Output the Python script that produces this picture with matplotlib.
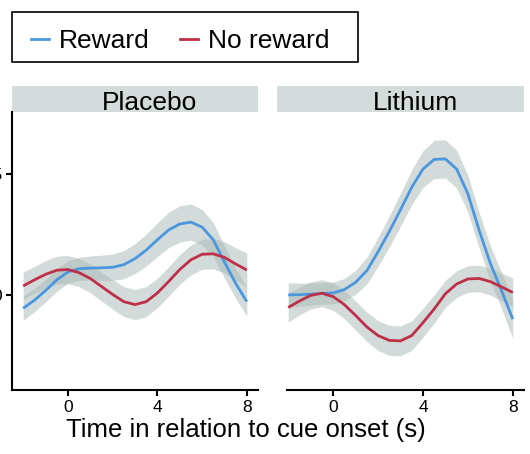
import numpy as np
import matplotlib
matplotlib.use("Agg")
import matplotlib.pyplot as plt
from matplotlib.lines import Line2D
from matplotlib.patches import Rectangle

plt.rcParams['font.family'] = ['Liberation Sans', 'DejaVu Sans']

# data (time in s, signal in axis units)
time = [-2, -1.5, -1, -0.5, 0, 0.5, 1, 1.5, 2, 2.5, 3,
        3.5, 4, 4.5, 5, 5.5, 6, 6.5, 7, 7.5, 8]

placebo_reward = [-0.055, -0.022, 0.018, 0.062, 0.095, 0.108, 0.111, 0.112, 0.114, 0.125, 0.150,
                  0.185, 0.228, 0.268, 0.293, 0.301, 0.280, 0.228, 0.136, 0.048, -0.028]
placebo_reward_se = [0.050, 0.048, 0.047, 0.047, 0.047, 0.048, 0.050, 0.052, 0.055, 0.058, 0.062,
                     0.066, 0.070, 0.073, 0.075, 0.075, 0.073, 0.070, 0.066, 0.062, 0.060]
placebo_noreward = [0.037, 0.062, 0.085, 0.102, 0.105, 0.092, 0.068, 0.035, 0.002, -0.028, -0.040,
                    -0.028, 0.008, 0.055, 0.105, 0.145, 0.168, 0.170, 0.155, 0.128, 0.103]
placebo_noreward_se = [0.057, 0.056, 0.057, 0.058, 0.058, 0.058, 0.059, 0.060, 0.061, 0.062, 0.062,
                       0.062, 0.061, 0.061, 0.061, 0.062, 0.062, 0.063, 0.065, 0.067, 0.070]

lithium_reward = [0.000, 0.001, 0.003, 0.006, 0.008, 0.022, 0.052, 0.100, 0.178, 0.262, 0.352,
                  0.445, 0.520, 0.560, 0.562, 0.520, 0.418, 0.268, 0.130, 0.018, -0.100]
lithium_reward_se = [0.050, 0.048, 0.046, 0.045, 0.045, 0.046, 0.050, 0.055, 0.060, 0.064, 0.068,
                     0.072, 0.076, 0.079, 0.079, 0.078, 0.076, 0.074, 0.073, 0.075, 0.080]
lithium_noreward = [-0.052, -0.025, -0.002, 0.007, -0.007, -0.040, -0.085, -0.132, -0.168, -0.188, -0.190,
                    -0.168, -0.115, -0.058, 0.005, 0.045, 0.066, 0.068, 0.055, 0.033, 0.010]
lithium_noreward_se = [0.060, 0.058, 0.056, 0.056, 0.057, 0.058, 0.060, 0.061, 0.062, 0.062, 0.062,
                       0.061, 0.060, 0.058, 0.056, 0.055, 0.055, 0.055, 0.056, 0.058, 0.060]

panels = ["Placebo", "Lithium"]
x_ticks = [0, 4, 8]
y_ticks = [0, 0.5]
y_ticklabels = ["0", "0.5"]

blue = "#4A97E0"
red = "#BE3048"
band = "#A9B8B6"
strip = "#D3DCDA"

W, H = 530, 454
fig = plt.figure(figsize=(W / 100, H / 100), dpi=100)

def px(x0, y0, x1, y1):
    return [x0 / W, 1 - y1 / H, (x1 - x0) / W, (y1 - y0) / H]

ax1 = fig.add_axes(px(12, 112, 258, 390))
ax2 = fig.add_axes(px(277, 112, 524, 390))

series = [
    (ax1, placebo_reward, placebo_reward_se, placebo_noreward, placebo_noreward_se),
    (ax2, lithium_reward, lithium_reward_se, lithium_noreward, lithium_noreward_se),
]

t = np.array(time)
for (ax, rw, rw_se, nr, nr_se), name in zip(series, panels):
    for m, se in [(rw, rw_se), (nr, nr_se)]:
        m = np.array(m)
        se = np.array(se)
        ax.fill_between(t, m - se, m + se, color=band, alpha=0.5, lw=0, zorder=1)
    for m, col in [(rw, blue), (nr, red)]:
        ax.plot(t, m, color=col, lw=2.0, zorder=3, solid_capstyle='butt',
                solid_joinstyle='round')

    ax.set_xlim(-2.5, 8.5)
    ax.set_ylim(-0.393, 0.756)
    ax.set_xticks(x_ticks)
    ax.set_xticklabels([str(v) for v in x_ticks], fontsize=12.5)
    for s in ["top", "right"]:
        ax.spines[s].set_visible(False)
    ax.spines["bottom"].set_linewidth(1.5)
    ax.spines["left"].set_linewidth(1.5)
    ax.tick_params(axis="x", length=4, width=1.5, pad=3.5)
    ax.add_patch(Rectangle((0, 1.0), 1.0, 25.5 / 278, transform=ax.transAxes,
                           facecolor=strip, edgecolor="none", clip_on=False))
    ax.text(0.56, 1.0 + 2.5 / 278, name, transform=ax.transAxes, ha="center",
            va="baseline", fontsize=19)

ax1.set_yticks(y_ticks)
ax1.set_yticklabels(y_ticklabels, fontsize=12.5)
ax1.tick_params(axis="y", length=4, width=1.5, pad=3)
ax2.spines["left"].set_visible(False)
ax2.set_yticks([])
ax2.spines["bottom"].set_bounds(-2.05, 8.5)

fig.text(246 / W, 1 - 437 / H, "Time in relation to cue onset (s)",
         ha="center", va="baseline", fontsize=18.5)

# legend box drawn by hand, entries placed inside it
fig.add_artist(Rectangle((12 / W, 1 - 62 / H), 346 / W, 50 / H,
                         transform=fig.transFigure, facecolor="white",
                         edgecolor="black", lw=1.2))
handles = [Line2D([], [], color=blue, lw=2), Line2D([], [], color=red, lw=2)]
leg = fig.legend(handles, ["Reward", "No reward"], loc="upper left",
                 bbox_to_anchor=(31 / W, 1 - 29 / H), ncol=2, fontsize=19,
                 frameon=False, handlelength=0.7, handletextpad=0.35,
                 columnspacing=1.15, borderpad=0, borderaxespad=0)

fig.savefig("out.png", dpi=100)
